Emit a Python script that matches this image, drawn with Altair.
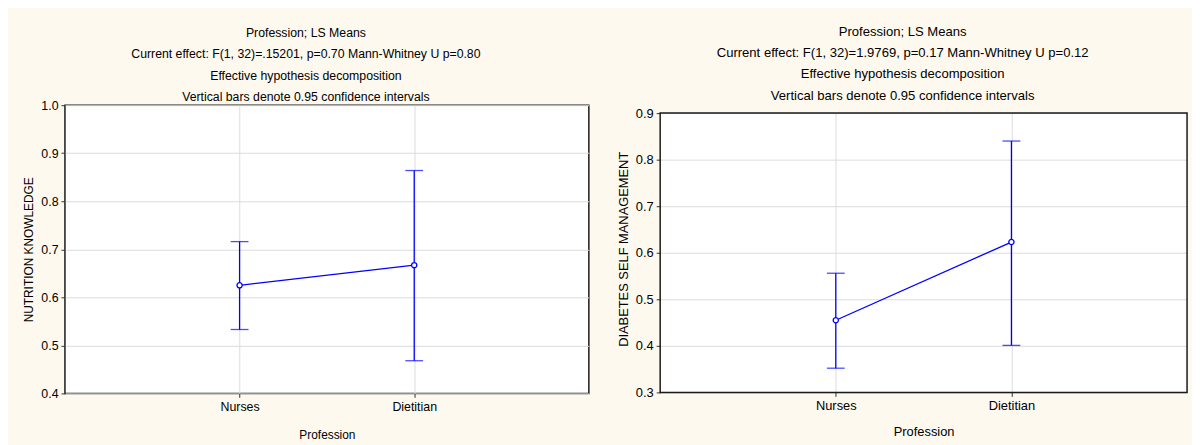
import altair as alt
import pandas as pd

professions = ["Nurses", "Dietitian"]

nk_mean = [0.625, 0.667]
nk_low = [0.533, 0.468]
nk_high = [0.716, 0.864]

dsm_mean = [0.455, 0.623]
dsm_low = [0.352, 0.401]
dsm_high = [0.556, 0.840]

left_title = [
    "Profession; LS Means",
    "Current effect: F(1, 32)=.15201, p=0.70 Mann-Whitney U p=0.80",
    "Effective hypothesis decomposition",
    "Vertical bars denote 0.95 confidence intervals",
]
right_title = [
    "Profession; LS Means",
    "Current effect: F(1, 32)=1.9769, p=0.17 Mann-Whitney U p=0.12",
    "Effective hypothesis decomposition",
    "Vertical bars denote 0.95 confidence intervals",
]

BLUE = "#0000FF"
FONT = "Liberation Sans"
CREAM = "#FEF9EF"
FRAME = "#1a1a1a"


def panel(means, lows, highs, ytitle, ydomain, title_lines, w, h, ext, fs_title, fs_label,
          fs_axtitle, toffset, xtpad):
    df = pd.DataFrame({"Profession": professions, "mean": means, "low": lows, "high": highs})
    base = alt.Chart(df)
    x = alt.X("Profession:N", sort=professions,
              scale=alt.Scale(type="point", padding=1),
              axis=alt.Axis(title="Profession", labelAngle=0, grid=True,
                            titlePadding=xtpad, labelPadding=3,
                            labelFontSize=fs_label, titleFontSize=fs_axtitle))
    yax = alt.Axis(title=ytitle, format=".1f",
                   values=[round(ydomain[0] + 0.1 * i, 1) for i in range(7)],
                   titlePadding=5, labelPadding=3, grid=True,
                   labelFontSize=fs_label, titleFontSize=fs_axtitle)
    ysc = alt.Scale(domain=[ydomain[0], ydomain[1] + ext], nice=False, zero=False)
    layers = []
    rule = base.mark_rule(color=BLUE, strokeWidth=1.3).encode(
        x=x, y=alt.Y("low:Q", scale=ysc, axis=yax), y2="high:Q")
    layers.append(rule)
    if ext > 0:
        strip = alt.Chart(pd.DataFrame({"a": [0]})).mark_rect(fill=CREAM, strokeWidth=0).encode(
            x=alt.value(0), x2=alt.value("width"),
            y=alt.datum(ydomain[1] + ext), y2=alt.datum(ydomain[1]))
        frame = alt.Chart(pd.DataFrame({"a": [0]})).mark_rect(
            fillOpacity=0, stroke=FRAME, strokeWidth=1.5).encode(
            x=alt.value(0), x2=alt.value("width"),
            y=alt.datum(ydomain[1]), y2=alt.datum(ydomain[0]))
        layers += [strip, frame]
    cap_lo = base.mark_tick(color=BLUE, size=18, thickness=1.3, orient="horizontal").encode(
        x=x, y=alt.Y("low:Q", scale=ysc))
    cap_hi = base.mark_tick(color=BLUE, size=18, thickness=1.3, orient="horizontal").encode(
        x=x, y=alt.Y("high:Q", scale=ysc))
    line = base.mark_line(color=BLUE, strokeWidth=1.3).encode(
        x=x, y=alt.Y("mean:Q", scale=ysc))
    pts = base.mark_point(shape="circle", filled=True, fill="white", stroke=BLUE,
                          strokeWidth=1.3, size=28, opacity=1).encode(
        x=x, y=alt.Y("mean:Q", scale=ysc))
    layers += [cap_lo, cap_hi, line, pts]
    props = dict(
        width=w, height=h,
        title=alt.TitleParams(text=title_lines, fontSize=fs_title, fontWeight="normal", font=FONT,
                              lineHeight=21.5, offset=toffset, frame="bounds", anchor="middle",
                              color="black"),
    )
    if ext > 0:
        props["view"] = alt.ViewBackground(stroke="transparent", fill="white")
    return alt.layer(*layers).properties(**props)


left = panel(nk_mean, nk_low, nk_high, "NUTRITION KNOWLEDGE", [0.4, 1.0], left_title, 529, 291,
             0.0, 12.4, 12.5, 12, -4, 17)
right = panel(dsm_mean, dsm_low, dsm_high, "DIABETES SELF MANAGEMENT", [0.3, 0.9], right_title,
              532, 290, 0.017, 13.2, 13, 13, 2.5, 14)

chart = alt.hconcat(left, right, spacing=27).properties(
    background=CREAM,
    padding={"left": 13.5, "top": 14, "right": 3, "bottom": 4},
).configure_view(
    stroke=FRAME, strokeWidth=1.5, fill="white"
).configure_axis(
    labelFont=FONT, labelColor="black",
    titleFont=FONT, titleFontWeight="normal", titleColor="black",
    gridColor="#DCDCDC", gridWidth=1, tickColor="#333333", tickSize=4, domain=False,
)

chart.save("out.html", embed_options={"renderer": "svg", "actions": False})
